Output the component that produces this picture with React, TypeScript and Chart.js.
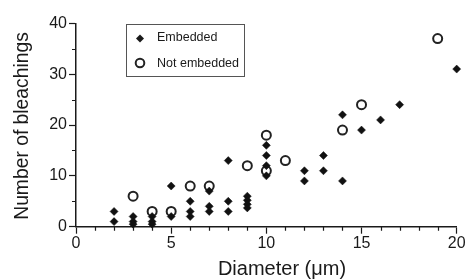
import React, { useEffect, useRef } from "react";
import { Chart, registerables } from "chart.js";

Chart.register(...registerables);

const embeddedX = [2, 2, 3, 3, 3, 4, 4, 4, 5, 5, 6, 6, 6, 7, 7, 7, 8, 8, 8, 9, 9, 9, 9, 10, 10, 10, 10, 12, 12, 13, 13, 14, 14, 15, 16, 17, 20];
const embeddedY = [3, 1, 2, 1, 0.5, 2, 1, 0.5, 8, 2, 5, 3, 2, 7, 4, 3, 13, 5, 3, 6, 5.2, 4.4, 3.7, 16, 14, 12, 10, 11, 9, 14, 11, 22, 9, 19, 21, 24, 31];
const notEmbeddedX = [3, 4, 5, 6, 7, 9, 10, 10, 11, 14, 15, 19];
const notEmbeddedY = [6, 3, 3, 8, 8, 12, 18, 11, 13, 19, 24, 37];
const xTickLabels = [0, 5, 10, 15, 20];
const yTickLabels = [0, 10, 20, 30, 40];
const seriesNames = ["Embedded", "Not embedded"];
const xTitle = "Diameter (\u03bcm)";
const yTitle = "Number of bleachings";

const FONT = "'Liberation Sans', Arial, sans-serif";
const INK = "#1a1a1a";

const overlayPlugin = {
  id: "overlay",
  afterDraw(chart: any) {
    const ctx = chart.ctx;
    const xs = chart.scales.x;
    const ys = chart.scales.y;
    const area = chart.chartArea;
    ctx.save();
    // minor ticks
    ctx.strokeStyle = INK;
    ctx.lineWidth = 1.2;
    ctx.beginPath();
    for (let v = 0; v <= 20; v++) {
      if (xTickLabels.includes(v)) continue;
      const px = Math.round(xs.getPixelForValue(v)) + 0.5;
      ctx.moveTo(px, area.bottom);
      ctx.lineTo(px, area.bottom + 4);
    }
    for (let v = 5; v < 40; v += 10) {
      const py = Math.round(ys.getPixelForValue(v)) + 0.5;
      ctx.moveTo(area.left, py);
      ctx.lineTo(area.left - 4, py);
    }
    ctx.stroke();

    // axis titles
    ctx.fillStyle = INK;
    ctx.textAlign = "center";
    ctx.textBaseline = "middle";
    ctx.font = `20px ${FONT}`;
    ctx.fillText(xTitle, 282, 269.5);
    ctx.font = `19.3px ${FONT}`;
    ctx.save();
    ctx.translate(22.5, (area.top + area.bottom) / 2 + 1);
    ctx.rotate(-Math.PI / 2);
    ctx.fillText(yTitle, 0, 0);
    ctx.restore();

    // legend
    const bx = 126.5, by = 24.5, bw = 118, bh = 52;
    ctx.strokeStyle = "#555";
    ctx.lineWidth = 1;
    ctx.strokeRect(bx, by, bw, bh);
    ctx.font = `12.5px ${FONT}`;
    ctx.textAlign = "left";
    ctx.fillStyle = INK;
    ctx.beginPath();
    const dx = 140, dy = 38.5, r = 4;
    ctx.moveTo(dx - r, dy);
    ctx.lineTo(dx, dy - r);
    ctx.lineTo(dx + r, dy);
    ctx.lineTo(dx, dy + r);
    ctx.closePath();
    ctx.fill();
    ctx.fillText(seriesNames[0], 157, 37.5);
    ctx.beginPath();
    ctx.strokeStyle = "#222";
    ctx.lineWidth = 2;
    ctx.arc(140, 63, 4.3, 0, Math.PI * 2);
    ctx.stroke();
    ctx.fillText(seriesNames[1], 157, 63.5);
    ctx.restore();
  },
};

export default function App() {
  const canvasRef = useRef<HTMLCanvasElement | null>(null);

  useEffect(() => {
    const canvas = canvasRef.current;
    if (!canvas) return;
    const embedded = embeddedX.map((x, i) => ({ x, y: embeddedY[i] }));
    const notEmbedded = notEmbeddedX.map((x, i) => ({ x, y: notEmbeddedY[i] }));
    const chart = new Chart(canvas, {
      type: "scatter",
      data: {
        datasets: [
          {
            label: seriesNames[0],
            data: embedded,
            clip: false,
            pointStyle: "rectRot",
            pointRadius: 4,
            pointBackgroundColor: "#111",
            pointBorderColor: "#111",
            pointBorderWidth: 0.5,
          },
          {
            label: seriesNames[1],
            data: notEmbedded,
            clip: false,
            pointStyle: "circle",
            pointRadius: 4.5,
            pointBackgroundColor: "rgba(0,0,0,0)",
            pointBorderColor: "#222",
            pointBorderWidth: 2,
          },
        ],
      },
      options: {
        responsive: false,
        animation: false,
        events: [],
        layout: { padding: { top: 23.3, right: 11.3, left: 0, bottom: 0 } },
        plugins: {
          legend: { display: false },
          tooltip: { enabled: false },
          title: { display: false },
        },
        scales: {
          x: {
            type: "linear",
            min: 0,
            max: 20,
            afterFit: (s: any) => {
              s.height = 53.3;
            },
            afterBuildTicks: (s: any) => {
              s.ticks = xTickLabels.map((v) => ({ value: v }));
            },
            grid: {
              drawOnChartArea: false,
              drawTicks: true,
              tickLength: 7,
              tickWidth: 1.2,
              tickColor: INK,
            },
            border: { display: true, color: INK, width: 1.5 },
            ticks: {
              color: INK,
              padding: 2,
              maxRotation: 0,
              autoSkip: false,
              font: { family: FONT, size: 16, lineHeight: 1 },
            },
          },
          y: {
            type: "linear",
            min: 0,
            max: 40,
            afterFit: (s: any) => {
              s.width = 76;
            },
            afterBuildTicks: (s: any) => {
              s.ticks = yTickLabels.map((v) => ({ value: v }));
            },
            grid: {
              drawOnChartArea: false,
              drawTicks: true,
              tickLength: 7,
              tickWidth: 1.2,
              tickColor: INK,
            },
            border: { display: true, color: INK, width: 1.5 },
            ticks: {
              color: INK,
              padding: 2,
              autoSkip: false,
              font: { family: FONT, size: 16, lineHeight: 1 },
            },
          },
        },
      },
      plugins: [overlayPlugin],
    });
    return () => chart.destroy();
  }, []);

  return (
    <div style={{ position: "fixed", left: 0, top: 0, width: 468, height: 280, background: "#fff" }}>
      <canvas ref={canvasRef} width={468} height={280} style={{ display: "block" }} />
    </div>
  );
}
